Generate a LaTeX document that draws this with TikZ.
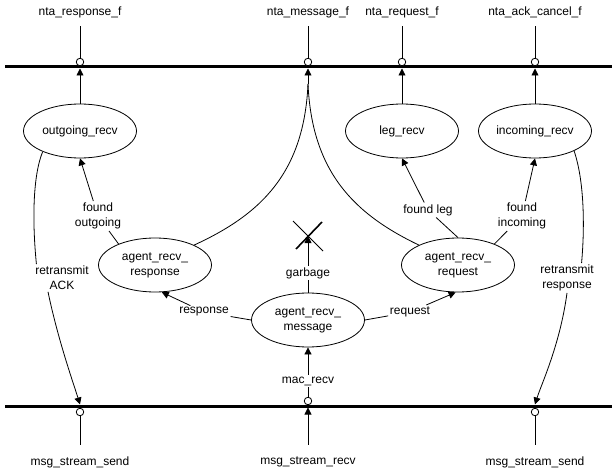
\documentclass[tikz,border=0pt]{standalone}
\usepackage{fontspec}
\setmainfont{Liberation Sans}
\usetikzlibrary{arrows.meta, shapes.geometric}

\begin{document}
\begin{tikzpicture}[x=1pt, y=-1pt, line width=0.8pt,
	font=\fontsize{12}{15}\selectfont,
	proc/.style={ellipse, draw, minimum width=113pt, minimum height=54pt, inner sep=0pt, align=center},
	lbl/.style={inner sep=1.5pt, align=center},
	port/.style={circle, draw, fill=white, inner sep=0pt, minimum size=7.5pt},
	flow/.style={-{Triangle[length=7pt, width=7pt]}},
	bus/.style={line width=3pt}]
	\useasboundingbox (0,0) rectangle (616,476);
	% buses
	\coordinate (tbL) at (5,67); \coordinate (tbR) at (612,67);
	\coordinate (bbL) at (5,406); \coordinate (bbR) at (612,406);
	\draw[bus] (tbL) -- (tbR);
	\draw[bus] (bbL) -- (bbR);
	% top ports
	\foreach \n/\x/\t in {resp/80/nta\_response\_f, msg/308/nta\_message\_f,
		req/402/nta\_request\_f, ack/535/nta\_ack\_cancel\_f} {
		\node[lbl] (t\n) at (\x,12) {\t};
		\node[port] (p\n) at (\x,62) {};
		\coordinate (tip\n) at (\x,68.5);
		\draw[shorten <=7pt] (t\n) -- (p\n);
	}
	% processes
	\node[proc] (outRecv) at (80,131) {outgoing\_recv};
	\node[proc] (legRecv) at (402,131) {leg\_recv};
	\node[proc] (incRecv) at (535,131) {incoming\_recv};
	\node[proc] (rspRecv) at (155,265) {agent\_recv\_\\response};
	\node[proc] (reqRecv) at (458,265) {agent\_recv\_\\request};
	\node[proc] (msgRecv) at (308,320) {agent\_recv\_\\message};
	% up to the top bus
	\draw[flow] (outRecv) -- (tipresp);
	\draw[flow] (legRecv) -- (tipreq);
	\draw[flow] (incRecv) -- (tipack);
	\coordinate (mj) at (308,84);
	\draw (rspRecv.27) .. controls (262,214) and (304,172) .. (mj);
	\draw (reqRecv.153) .. controls (354,214) and (312,172) .. (mj);
	\draw[flow] (mj) -- (tipmsg);
	% found ...
	\node[lbl] (fo) at (98,216) {found\\outgoing};
	\draw (rspRecv.150) -- (fo);
	\draw[flow] (fo) -- (outRecv.south);
	\node[lbl] (fl) at (428,210) {found leg};
	\draw (reqRecv.north) -- (fl);
	\draw[flow] (fl) -- (legRecv.south);
	\node[lbl] (fi) at (522,216) {found\\incoming};
	\draw (reqRecv.30) -- (fi);
	\draw[flow] (fi) -- (incRecv.south);
	% garbage
	\node[lbl] (gb) at (308,273) {garbage};
	\coordinate (gx) at (308,236);
	\draw (msgRecv) -- (gb);
	\draw[flow] (gb) -- (gx);
	\draw[line width=0.8pt] ([shift={(-15,-15)}]gx) -- ([shift={(15,15)}]gx);
	\draw[line width=1.6pt] ([shift={(-12,13)}]gx) -- ([shift={(14,-14)}]gx);
	% response / request
	\node[lbl] (rs) at (204,312) {response};
	\draw (msgRecv.west) -- (rs);
	\draw[flow] (rs) -- (rspRecv.-76);
	\node[lbl] (rq) at (410,312) {request};
	\draw (msgRecv.east) -- (rq);
	\draw[flow] (rq) -- (reqRecv.-95);
	% bottom ports
	\node[port] (bsL) at (80,412) {};
	\node[port] (bsR) at (535,412) {};
	\node[port] (brc) at (308,401) {};
	\coordinate (tipL) at (80,404.5);
	\coordinate (tipR) at (535,404.5);
	\coordinate (tipC) at (308,407.5);
	\node[lbl] (lsL) at (80,462) {msg\_stream\_send};
	\node[lbl] (lsR) at (535,462) {msg\_stream\_send};
	\node[lbl] (lrc) at (308,462) {msg\_stream\_recv};
	\draw[shorten <=10pt] (lsL) -- (bsL);
	\draw[shorten <=10pt] (lsR) -- (bsR);
	\draw[flow, shorten <=10pt] (lrc) -- (tipC);
	\node[lbl] (mr) at (308,381) {mac\_recv};
	\draw (brc) -- (mr);
	\draw[flow] (mr) -- (msgRecv);
	% retransmit
	\node[lbl] (ra) at (62,278) {retransmit\\ACK};
	\draw (outRecv.209) .. controls (33,175) and (32,220) .. ([xshift=3pt]ra.north west);
	\draw[flow] ([xshift=-14pt]ra.south) .. controls (58,340) and (74,385) .. (tipL);
	\node[lbl] (rr) at (567,278) {retransmit\\response};
	\draw (incRecv.-27) .. controls (584,180) and (585,225) .. ([xshift=-14pt]rr.north east);
	\draw[flow] (rr.south) .. controls (560,345) and (541,385) .. (tipR);
\end{tikzpicture}
\end{document}
